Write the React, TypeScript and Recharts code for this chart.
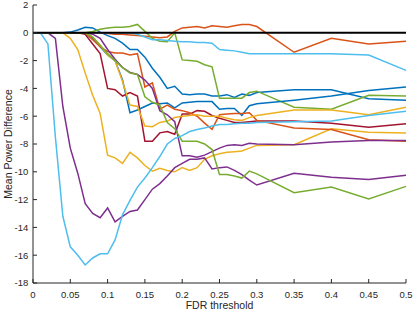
import React from "react";
import { LineChart, Line, XAxis, YAxis, ReferenceLine } from "recharts";

// FDR thresholds (x), 0..0.3 in steps of 0.01, then coarser
const FDR = [
  0, 0.01, 0.02, 0.03, 0.04, 0.05, 0.06, 0.07, 0.08, 0.09, 0.1, 0.11, 0.12,
  0.13, 0.14, 0.15, 0.16, 0.17, 0.18, 0.19, 0.2, 0.21, 0.22, 0.23, 0.24, 0.25,
  0.26, 0.27, 0.28, 0.29, 0.3, 0.35, 0.4, 0.45, 0.5,
];

const X_TICKS = [0, 0.05, 0.1, 0.15, 0.2, 0.25, 0.3, 0.35, 0.4, 0.45, 0.5];
const Y_TICKS = [-18, -16, -14, -12, -10, -8, -6, -4, -2, 0, 2];

const blueA = [
  0, 0, 0, 0, 0, 0.05, 0.2, 0.4, 0.35, 0.05, -0.2, -0.4, -0.75, -1.2, -1.2,
  -1.75, -2.55, -3.2, -4.0, -3.85, -4.4, -4.45, -4.4, -4.4, -4.55, -4.55,
  -4.45, -4.65, -4.4, -4.5, -4.3, -4.1, -4.1, -4.75, -4.85,
];
const orangeA = [
  0, 0, 0, 0, 0, 0, 0, 0, 0, 0, -0.05, -0.1, -0.1, -0.15, -0.2, -0.25, -0.3,
  -0.35, -0.3, 0.1, 0.35, 0.4, 0.45, 0.35, 0.5, 0.45, 0.4, 0.5, 0.6, 0.6,
  0.45, -1.4, -0.4, -0.8, -0.6,
];
const yellowA = [
  0, 0, 0, 0, 0, -0.4, -1.2, -2.9, -4.5, -5.8, -8.8, -9.0, -9.4, -8.6, -9.0,
  -9.55, -9.95, -9.75, -9.9, -10.0, -9.7, -9.9, -9.7, -9.1, -8.85, -8.7,
  -8.6, -8.55, -8.5, -8.3, -8.1, -8.05, -6.9, -7.15, -7.2,
];
const purpleA = [
  0, 0, 0, -0.4, -5.3, -8.3, -10.1, -12.3, -13.0, -13.3, -12.6, -13.6,
  -13.2, -12.85, -12.75, -12.0, -11.25, -10.85, -10.3, -9.7, -9.4, -9.1,
  -9.1, -9.0, -9.8, -9.7, -9.65, -9.9, -10.2, -10.6, -10.95, -10.1, -10.4,
  -10.55, -10.25,
];
const greenA = [
  0, 0, 0, 0, 0, 0, 0, 0, 0.1, 0.25, 0.35, 0.4, 0.4, 0.45, 0.6, 0.1, -0.4,
  -0.6, -0.65, 0.0, -1.95, -2.0, -2.05, -2.3, -2.45, -4.7, -4.7, -4.7, -4.7,
  -4.3, -4.2, -5.35, -5.5, -4.5, -4.55,
];
const lightBlueA = [
  0, 0, 0, 0, 0, 0, 0, 0, 0, 0, 0, 0, 0, 0, -0.1, -0.3, -0.5, -0.5, -0.55,
  -0.6, -0.65, -0.65, -0.7, -0.7, -0.75, -1.2, -1.25, -1.3, -1.4, -1.5, -1.5,
  -1.5, -1.5, -1.6, -2.7,
];
const darkRed = [
  0, 0, 0, 0, 0, 0, 0, -0.1, -0.8, -1.5, -4.0, -4.1, -4.55, -4.3, -4.55,
  -7.8, -7.8, -7.2, -7.1, -7.3, -5.85, -5.85, -5.6, -5.65, -5.95, -6.15,
  -6.3, -6.45, -6.45, -6.4, -6.35, -6.35, -6.5, -6.8, -6.55,
];
const blueB = [
  0, 0, 0, 0, 0, 0, 0, 0, -0.4, -1.0, -1.6, -2.0, -3.4, -5.75, -5.55, -5.3,
  -5.05, -5.1, -5.05, -5.4, -5.05, -5.0, -4.95, -4.95, -4.95, -5.5, -5.45,
  -5.45, -5.95, -5.25, -5.1, -4.85, -4.55, -4.15, -3.9,
];
const orangeB = [
  0, 0, 0, 0, 0, 0, 0, 0, -0.5, -1.0, -1.35, -1.45, -1.45, -1.6, -1.5, -3.9,
  -3.6, -5.5, -5.2, -5.5, -5.6, -5.75, -6.0, -6.5, -6.95, -5.9, -5.85, -5.8,
  -5.8, -5.75, -6.3, -6.85, -6.95, -7.7, -7.8,
];
const yellowB = [
  0, 0, 0, 0, 0, 0, 0, 0, -0.3, -0.9, -1.6, -2.0, -3.5, -5.2, -5.3, -6.7,
  -6.75, -6.45, -6.35, -6.1, -6.0, -5.95, -5.9, -6.0, -6.0, -6.0, -6.15,
  -6.25, -6.3, -6.1, -5.95, -5.55, -5.55, -5.9, -5.35,
];
const purpleB = [
  0, 0, 0, 0, 0, 0, 0, 0, -0.1, -0.4, -1.2, -1.9, -2.5, -2.85, -3.0, -3.4,
  -4.0, -5.6, -5.9, -6.4, -8.85, -8.85, -8.95, -8.8, -8.55, -8.3, -8.1,
  -8.05, -8.1, -7.95, -8.0, -8.05, -7.85, -7.75, -7.75,
];
const greenB = [
  0, 0, 0, 0, 0, 0, 0, 0, -0.3, -0.9, -1.5, -2.0, -2.5, -2.9, -3.0, -4.6,
  -5.0, -5.2, -6.45, -6.9, -7.8, -7.8, -7.8, -8.0, -8.4, -10.2, -10.2, -10.3,
  -10.45, -9.95, -10.15, -11.5, -11.1, -11.95, -11.05,
];
const lightBlueB = [
  0, 0, -0.8, -7.5, -13.2, -15.4, -16.0, -16.7, -16.2, -15.9, -15.9, -14.9,
  -13.1, -12.05, -11.1, -10.45, -9.7, -8.9, -8.0, -7.6, -7.4, -7.1, -6.95,
  -6.85, -6.7, -6.6, -6.6, -6.55, -6.5, -6.5, -6.45, -6.4, -6.35, -5.95,
  -5.65,
];

const SERIES = [
  { key: "blueA", color: "#0072BD", values: blueA },
  { key: "orangeA", color: "#D95319", values: orangeA },
  { key: "yellowA", color: "#EDB120", values: yellowA },
  { key: "purpleA", color: "#7E2F8E", values: purpleA },
  { key: "greenA", color: "#77AC30", values: greenA },
  { key: "lightBlueA", color: "#4DBEEE", values: lightBlueA },
  { key: "darkRed", color: "#A2142F", values: darkRed },
  { key: "blueB", color: "#0072BD", values: blueB },
  { key: "orangeB", color: "#D95319", values: orangeB },
  { key: "yellowB", color: "#EDB120", values: yellowB },
  { key: "purpleB", color: "#7E2F8E", values: purpleB },
  { key: "greenB", color: "#77AC30", values: greenB },
  { key: "lightBlueB", color: "#4DBEEE", values: lightBlueB },
];

const rows = FDR.map((fdr, i) => {
  const row: Record<string, number> = { fdr };
  SERIES.forEach((s) => {
    row[s.key] = s.values[i];
  });
  return row;
});

const FONT = "'Liberation Sans', Arial, sans-serif";
const AXIS = "#262626";

const App: React.FC = () => {
  return (
    <div
      style={{
        position: "absolute",
        left: 0,
        top: 0,
        width: 415,
        height: 312,
        background: "#fff",
        fontFamily: FONT,
      }}
    >
      <LineChart
        width={415}
        height={312}
        data={rows}
        margin={{ top: 5, right: 9, bottom: 0, left: 0 }}
      >
        <XAxis
          dataKey="fdr"
          type="number"
          domain={[0, 0.5]}
          ticks={X_TICKS}
          interval={0}
          height={29}
          stroke={AXIS}
          tickSize={-4}
          tickMargin={11.8}
          tick={{ fill: AXIS, fontSize: 9.5, fontFamily: FONT }}
          tickFormatter={(v: number) => String(v)}
          label={() => (
            <text
              x={219.5}
              y={309}
              textAnchor="middle"
              fill={AXIS}
              fontSize={10.5}
              fontFamily={FONT}
            >
              FDR threshold
            </text>
          )}
        />
        <YAxis
          type="number"
          domain={[-18, 2]}
          ticks={Y_TICKS}
          interval={0}
          width={33}
          stroke={AXIS}
          tickSize={-4}
          tickMargin={8.7}
          tick={{ fill: AXIS, fontSize: 9.5, fontFamily: FONT }}
          label={() => (
            <text
              x={11.5}
              y={144}
              transform="rotate(-90 11.5 144)"
              textAnchor="middle"
              fill={AXIS}
              fontSize={10.5}
              fontFamily={FONT}
            >
              Mean Power Difference
            </text>
          )}
        />
        {SERIES.map((s) => (
          <Line
            key={s.key}
            dataKey={s.key}
            type="linear"
            stroke={s.color}
            strokeWidth={1.5}
            dot={false}
            activeDot={false}
            isAnimationActive={false}
          />
        ))}
        <ReferenceLine y={0} stroke="#000" strokeWidth={2} />
      </LineChart>
    </div>
  );
};

export default App;
